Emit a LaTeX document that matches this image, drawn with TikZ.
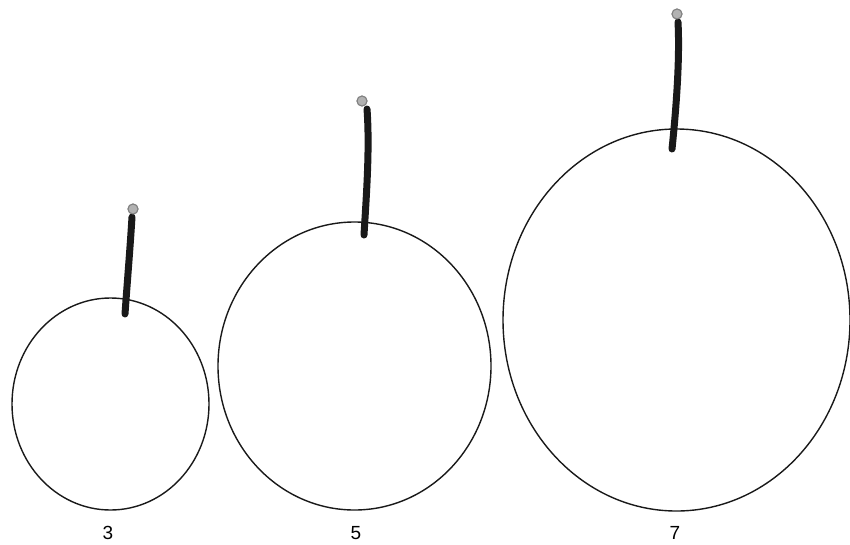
\documentclass[tikz,border=0pt]{standalone}
\usepackage{fontspec}
\setmainfont{Liberation Sans}
\usetikzlibrary{shapes.geometric}
\begin{document}
\begin{tikzpicture}[x=1pt,y=-1pt,
  ring/.style={draw=black!90,line width=1.4pt,ellipse,inner sep=0pt},
  stem/.style={draw=black!90,line width=7pt,line cap=round},
  knob/.style={circle,fill=black!30,draw=black!50,line width=1pt,inner sep=0pt,minimum size=10pt},
  lbl/.style={font=\fontsize{19}{22}\selectfont}]
\useasboundingbox (0,0) rectangle (850,544);
% ellipses
\node[ring,minimum width=197pt,minimum height=212pt] (e1) at (110.5,404) {};
\node[ring,minimum width=273pt,minimum height=288pt] (e2) at (354.5,366) {};
\node[ring,minimum width=347pt,minimum height=382pt] (e3) at (676.5,320) {};
% stem ends
\coordinate (b1) at (125,314);
\coordinate (b2) at (364,235);
\coordinate (b3) at (672,149);
% knobs
\node[knob] (k1) at (133,209) {};
\node[knob] (k2) at (362,101) {};
\node[knob] (k3) at (677,14) {};
% stems
\draw[stem] (132,217) .. controls (130,250) and (127,285) .. (b1);
\draw[stem] (367,109) .. controls (370,150) and (366,200) .. (b2);
\draw[stem] (678,22) .. controls (680,60) and (676,110) .. (b3);
\node[knob] at (k1) {};
\node[knob] at (k2) {};
\node[knob] at (k3) {};
% labels
\node[lbl] (l1) at (108,533) {3};
\node[lbl] (l2) at (356,533) {5};
\node[lbl] (l3) at (675,533) {7};
\end{tikzpicture}
\end{document}
